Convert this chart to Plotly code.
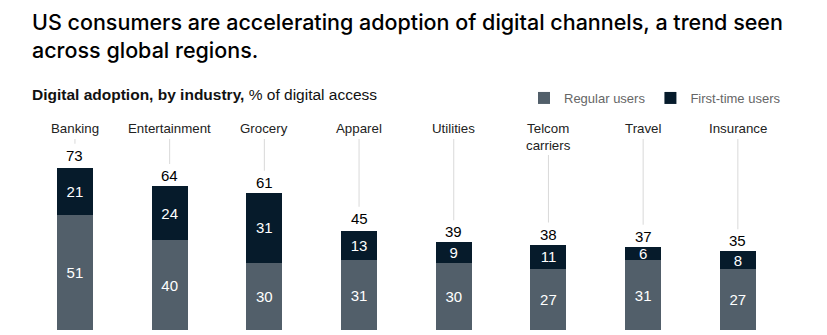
import plotly.graph_objects as go

categories = ["Banking", "Entertainment", "Grocery", "Apparel", "Utilities",
              "Telcom<br>carriers", "Travel", "Insurance"]
regular_users = [51, 40, 30, 31, 30, 27, 31, 27]
first_time_users = [21, 24, 31, 13, 9, 11, 6, 8]
totals = [73, 64, 61, 45, 39, 38, 37, 35]

W, H = 827, 335
BOTTOM_PX = 330      # pixel of value 0
PX_PER_UNIT = 2.25
REG_COLOR = "#525f6a"
FIRST_COLOR = "#061b2b"
LINE_COLOR = "#d9d9d9"
FONT = "Liberation Sans, Arial, sans-serif"
TITLE_FONT = "Inter, Liberation Sans, sans-serif"


def py(px):
    """page pixel (from top) -> paper fraction"""
    return 1 - px / H


def dy(px):
    """page pixel (from top) -> data value"""
    return (BOTTOM_PX - px) / PX_PER_UNIT


fig = go.Figure()
fig.add_bar(x=categories, y=regular_users, name="Regular users",
            marker=dict(color=REG_COLOR, line=dict(width=0)),
            text=regular_users, textposition="inside", insidetextanchor="middle",
            textangle=0,
            textfont=dict(color="white", size=15, family=FONT))
fig.add_bar(x=categories, y=first_time_users, name="First-time users",
            marker=dict(color=FIRST_COLOR, line=dict(width=0)),
            text=first_time_users, textposition="inside", insidetextanchor="middle",
            textangle=0,
            textfont=dict(color="white", size=15, family=FONT))

shapes = []
annotations = []
for cat, tot in zip(categories, totals):
    two_line = "<br>" in cat
    start_px = 155 if two_line else 139
    # category label
    annotations.append(dict(x=cat, y=py(119), xref="x", yref="paper", text=cat,
                            showarrow=False, yanchor="top", xanchor="center",
                            font=dict(size=13.3, color="#222", family=FONT)))
    # connector line
    shapes.append(dict(type="line", xref="x", yref="y", x0=cat, x1=cat,
                       y0=dy(start_px), y1=tot + 22 / PX_PER_UNIT,
                       line=dict(color=LINE_COLOR, width=1)))
    # total label
    annotations.append(dict(x=cat, y=tot, xref="x", yref="y", text=str(tot),
                            showarrow=False, yanchor="bottom", xanchor="center",
                            yshift=0, font=dict(size=15, color="#000", family=FONT)))

annotations.append(dict(
    x=30 / W, y=py(7), xref="paper", yref="paper", xanchor="left", yanchor="top",
    align="left", showarrow=False,
    text="US consumers are accelerating adoption of digital channels, a trend seen<br>across global regions.",
    font=dict(size=21.5, color="#000", family=TITLE_FONT, weight=500)))
annotations.append(dict(
    x=30 / W, y=py(94), xref="paper", yref="paper", xanchor="left", yanchor="middle",
    align="left", showarrow=False,
    text="<b>Digital adoption, by industry,</b> % of digital access",
    font=dict(size=15.5, color="#111", family=FONT)))

x0 = 27.6
step = 94.7
fig.update_layout(
    width=W, height=H, barmode="stack", bargap=0.62,
    margin=dict(l=0, r=0, t=0, b=0),
    plot_bgcolor="white", paper_bgcolor="white",
    xaxis=dict(domain=[x0 / W, (x0 + 8 * step) / W], showticklabels=False,
               showgrid=False, zeroline=False, showline=False, ticks=""),
    yaxis=dict(domain=[(H - BOTTOM_PX) / H, 1], range=[0, BOTTOM_PX / PX_PER_UNIT],
               visible=False, showgrid=False, zeroline=False),
    uniformtext=dict(minsize=15, mode="show"),
    legend=dict(orientation="h", x=524 / W, y=py(83), xanchor="left", yanchor="top",
                font=dict(size=13, color="#666", family=FONT),
                traceorder="normal", itemclick=False, bgcolor="rgba(0,0,0,0)"),
    shapes=shapes, annotations=annotations, showlegend=True,
)

fig.write_html("out.html")
